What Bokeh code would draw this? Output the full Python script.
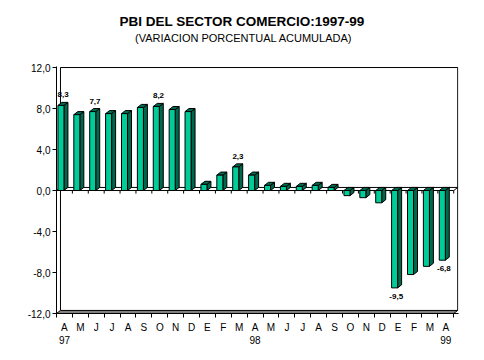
from bokeh.plotting import figure
from bokeh.models import Range1d, FixedTicker, Title, LinearAxis
from bokeh.embed import file_html
from bokeh.resources import INLINE
from bokeh.core.properties import value

# ---- data ----
months = ["A", "M", "J", "J", "A", "S", "O", "N", "D", "E", "F", "M",
          "A", "M", "J", "J", "A", "S", "O", "N", "D", "E", "F", "M", "A"]
year_pos = [0, 12, 24]
year_labels = ["97", "98", "99"]
values = [8.3, 7.4, 7.7, 7.5, 7.5, 8.1, 8.2, 7.9, 7.7, 0.6, 1.5, 2.3, 1.5,
          0.5, 0.4, 0.4, 0.5, 0.3, -0.5, -0.7, -1.2, -9.5, -8.2, -7.4, -6.8]
label_idx = [0, 2, 6, 11, 21, 24]
label_text = ["8,3", "7,7", "8,2", "2,3", "-9,5", "-6,8"]
y_ticks = [-12, -8, -4, 0, 4, 8, 12]
y_tick_labels = ["-12,0", "-8,0", "-4,0", "0,0", "4,0", "8,0", "12,0"]
title_text = "PBI DEL SECTOR COMERCIO:1997-99"
subtitle_text = "(VARIACION PORCENTUAL ACUMULADA)"

# ---- style ----
FONT = "Liberation Sans"
FRONT = "#00CC99"
SIDE = "#00664C"
TOP = "#006B50"
DX = 0.25      # depth offset (category units)
DY = 0.3       # depth offset (value units)
BAR_L = 0.09
BAR_R = 0.47
SUB_PAD = "\u00a0" * 9   # shifts the centred subtitle slightly left

n = len(values)
ymin, ymax = y_ticks[0], y_ticks[-1]

p = figure(frame_width=402, frame_height=247, title=None,
           x_range=Range1d(0, n + 0.3), y_range=Range1d(ymin, ymax + 0.1),
           output_backend="svg", toolbar_location=None,
           min_border_left=56, min_border_right=24,
           min_border_top=66, min_border_bottom=44)
p.background_fill_color = "white"
p.border_fill_color = "white"
p.outline_line_color = None
p.xgrid.visible = False
p.ygrid.visible = False

# back wall / frame lines
p.line([DX, DX], [ymin + DY, ymax], line_color="black", line_width=1)
p.line([DX, n + DX], [ymax, ymax], line_color="black", line_width=1)
p.line([n + DX, n + DX], [ymin + DY, ymax], line_color="black", line_width=1)
# floor
p.patch([0, n, n + DX, DX], [ymin, ymin, ymin + DY, ymin + DY],
        fill_color="#808080", line_color="black", line_width=1)
# zero plane
p.patch([0, n, n + DX, DX], [0, 0, DY, DY],
        fill_color="white", line_color="black", line_width=1)
# ticks on zero line
bounds = list(range(n + 1))
p.segment(x0=bounds, y0=[0] * len(bounds), x1=bounds, y1=[-0.3] * len(bounds),
          line_color="black", line_width=1)

# bars
x0 = [i + BAR_L for i in range(n)]
x1 = [i + BAR_R for i in range(n)]
bot = [min(0, v) for v in values]
top = [max(0, v) for v in values]

side_xs, side_ys, top_xs, top_ys = [], [], [], []
for a, b, lo, hi in zip(x0, x1, bot, top):
    side_xs.append([b, b, b + DX, b + DX])
    side_ys.append([lo, hi, hi + DY, lo + DY])
    top_xs.append([a, b, b + DX, a + DX])
    top_ys.append([hi, hi, hi + DY, hi + DY])

p.patches(side_xs, side_ys, fill_color=SIDE, line_color="black", line_width=1)
p.patches(top_xs, top_ys, fill_color=TOP, line_color="black", line_width=1)
p.quad(left=x0, right=x1, bottom=bot, top=top,
       fill_color=FRONT, line_color="black", line_width=1)

# data labels
pos_x = [i + 0.42 for i in label_idx if values[i] >= 0]
pos_y = [values[i] + DY for i in label_idx if values[i] >= 0]
pos_t = [t for i, t in zip(label_idx, label_text) if values[i] >= 0]
neg_x = [i + 0.38 for i in label_idx if values[i] < 0]
neg_y = [values[i] for i in label_idx if values[i] < 0]
neg_t = [t for i, t in zip(label_idx, label_text) if values[i] < 0]
p.text(x=pos_x, y=pos_y, text=pos_t, text_font=value(FONT),
       text_font_size="8px", text_font_style="bold", text_align="center",
       text_baseline="bottom", y_offset=-5, text_color="black")
p.text(x=neg_x, y=neg_y, text=neg_t, text_font=value(FONT),
       text_font_size="8px", text_font_style="bold", text_align="center",
       text_baseline="top", y_offset=6, text_color="black")

# axes
xa = p.xaxis[0]
centers = [i + 0.5 for i in range(n)]
xa.ticker = FixedTicker(ticks=centers, minor_ticks=bounds)
overrides = {}
for i, m in enumerate(months):
    lab = m
    if i in year_pos:
        lab = m + "\n" + year_labels[year_pos.index(i)]
    overrides[i + 0.5] = lab
xa.major_label_overrides = overrides
xa.major_tick_out = 0
xa.major_tick_in = 0
xa.minor_tick_out = 4
xa.minor_tick_in = 0
xa.major_label_standoff = 4
xa.major_label_text_font = FONT
xa.major_label_text_font_size = "10px"
xa.major_label_text_color = "black"
xa.axis_line_color = "black"
xa.major_tick_line_color = "black"
xa.minor_tick_line_color = "black"

ya = p.yaxis[0]
ya.ticker = FixedTicker(ticks=y_ticks, minor_ticks=[])
ya.major_label_overrides = {t: l for t, l in zip(y_ticks, y_tick_labels)}
ya.major_tick_out = 4
ya.major_tick_in = 0
ya.minor_tick_out = 0
ya.minor_tick_in = 0
ya.major_label_standoff = 2
ya.major_label_text_font = FONT
ya.major_label_text_font_size = "10px"
ya.major_label_text_color = "black"
ya.axis_line_color = "black"
ya.major_tick_line_color = "black"

# subtitle: label of an invisible axis above the plot (closest panel)
sub_axis = LinearAxis(ticker=FixedTicker(ticks=[], minor_ticks=[]),
                      axis_label=subtitle_text + SUB_PAD,
                      axis_line_color=None, major_tick_line_color=None,
                      minor_tick_line_color=None,
                      major_label_text_font_size="0px",
                      axis_label_text_font=FONT,
                      axis_label_text_font_size="11px",
                      axis_label_text_font_style="normal",
                      axis_label_text_color="black",
                      axis_label_standoff=23)
p.add_layout(sub_axis, "above")
# main title (further out)
p.add_layout(Title(text=title_text, text_font=FONT, text_font_size="13.5px",
                   text_font_style="bold", align="left", offset=63,
                   standoff=0, text_color="black"), "above")

open("out.html", "w").write(file_html(p, INLINE))
